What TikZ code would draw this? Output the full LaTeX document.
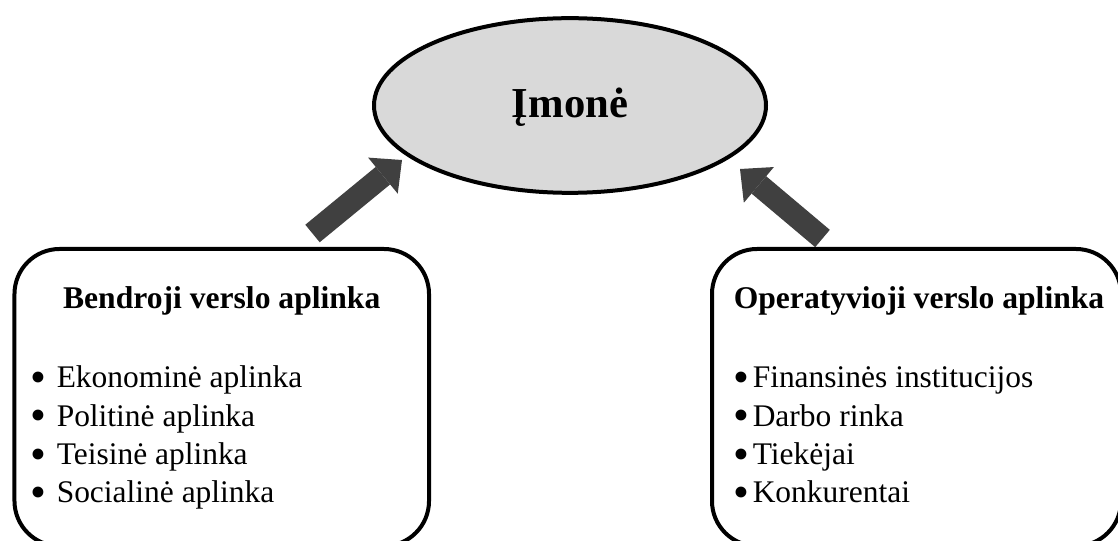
\documentclass[tikz,border=0pt]{standalone}
\usepackage{fontspec}
\setmainfont{Liberation Serif}
\usetikzlibrary{shapes.geometric,arrows.meta}
\definecolor{firmfill}{HTML}{D9D9D9}
\definecolor{arrowgray}{HTML}{404040}
\newcommand{\bulletmark}{\smash{\raisebox{-3.5pt}{\scalebox{1.44}{•}}}}
\tikzset{
  firm/.style={ellipse, draw=black, line width=3pt, fill=firmfill, inner sep=0pt,
    minimum width=294pt, minimum height=131pt, text depth=4pt,
    font=\fontsize{32}{38}\selectfont\bfseries},
  envbox/.style={draw=black, line width=3pt, rounded corners=33.75pt,
    minimum height=222.75pt, inner sep=0pt},
  heading/.style={anchor=base, inner sep=0pt, font=\fontsize{23.7}{28}\selectfont\bfseries},
  item/.style={anchor=base west, inner sep=0pt, font=\fontsize{23.6}{28}\selectfont},
  influence/.style={draw=arrowgray, line width=17pt,
    -{Triangle[width=35pt,length=18.5pt,line width=0pt]}}
}
% one unit = one pixel at 96 dpi, y axis pointing down
\begin{document}
\begin{tikzpicture}[x=0.75pt, y=-0.75pt]
  \useasboundingbox (0,0) rectangle (1118,541);
  \clip (0,0) rectangle (1118,541);

  % the firm
  \node (firm) [firm] at (570,105.5) {Įmonė};

  % the two environments
  \node (gen) [envbox, minimum width=310.9pt] at (221.75,397.5) {};
  \node (op)  [envbox, minimum width=306.75pt] at (916.5,397.5) {};

  \node (genhead) [heading] at (221.75,309) {Bendroji verslo aplinka};
  \node (ophead)  [heading] at (919,309) {Operatyvioji verslo aplinka};

  \node (g1) [item] at (19.5,388)   {\makebox[27.75pt][c]{\bulletmark}Ekonominė aplinka};
  \node (g2) [item] at (19.5,426.3) {\makebox[27.75pt][c]{\bulletmark}Politinė aplinka};
  \node (g3) [item] at (19.5,464.7) {\makebox[27.75pt][c]{\bulletmark}Teisinė aplinka};
  \node (g4) [item] at (19.5,503)   {\makebox[27.75pt][c]{\bulletmark}Socialinė aplinka};

  \node (o1) [item] at (730.5,388)   {\makebox[16.5pt][c]{\bulletmark}Finansinės institucijos};
  \node (o2) [item] at (730.5,426.3) {\makebox[16.5pt][c]{\bulletmark}Darbo rinka};
  \node (o3) [item] at (730.5,464.7) {\makebox[16.5pt][c]{\bulletmark}Tiekėjai};
  \node (o4) [item] at (730.5,503)   {\makebox[16.5pt][c]{\bulletmark}Konkurentai};

  % influence arrows towards the firm
  \coordinate (gtail) at (312.5,233.5);
  \coordinate (gtip)  at (402,160);
  \coordinate (otail) at (822.5,238.5);
  \coordinate (otip)  at (740,169);
  \draw[influence] (gtail) -- (gtip);
  \draw[influence] (otail) -- (otip);
\end{tikzpicture}
\end{document}
